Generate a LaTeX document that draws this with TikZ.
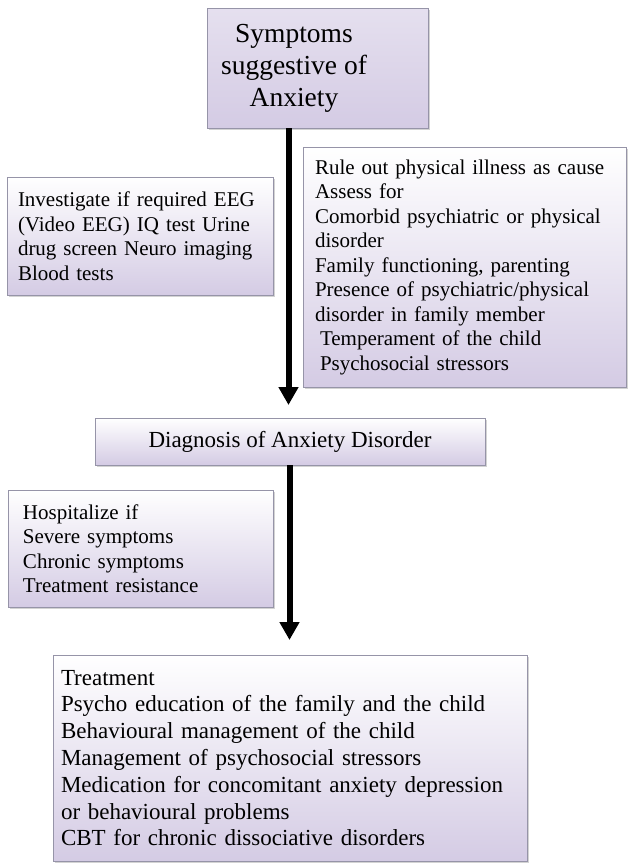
\documentclass[tikz,border=0pt]{standalone}
\usepackage{fontspec}
\setmainfont{Liberation Serif}
\usetikzlibrary{arrows.meta,positioning,shadows}
\definecolor{lav}{RGB}{212,203,228}
\definecolor{boxline}{RGB}{150,148,168}

\begin{document}
\begin{tikzpicture}[x=1pt,y=-1pt,
  box/.style={draw=boxline,line width=0.8pt,top color=white,bottom color=lav,
    drop shadow={shadow xshift=1.5pt,shadow yshift=-2pt,opacity=0.35},
    inner sep=0pt,align=left,font=\fontsize{21}{24.5}\selectfont},
  flow/.style={-{Triangle[width=19pt,length=18pt]},line width=6pt}]
  \useasboundingbox (0,0) rectangle (628,863);
  \node[box,minimum width=221pt,minimum height=120pt,top color=lav!60,bottom color=lav] (sympt) at (317.5,68) {};
  \node[font=\fontsize{27.5}{32}\selectfont,align=center] (symptxt) at (294,68) {Symptoms\\suggestive of\\Anxiety};
  \node[box,minimum width=266pt,minimum height=118pt,text width=244pt] (invest) at (140,236)
    {Investigate if required EEG\\(Video EEG) IQ test Urine\\drug screen Neuro imaging\\Blood tests};
  \node[box,minimum width=323pt,minimum height=240pt,text width=299pt] (ruleout) at (464.5,267)
    {Rule out physical illness as cause\\Assess for\\Comorbid psychiatric or physical\\disorder\\Family functioning, parenting\\Presence of psychiatric/physical\\disorder in family member\\\hspace*{5pt}Temperament of the child\\\hspace*{5pt}Psychosocial stressors};
  \node[box,minimum width=390pt,minimum height=47pt,align=center,font=\fontsize{23}{26}\selectfont] (diag) at (290,441.5) {Diagnosis of Anxiety Disorder};
  \node[box,minimum width=265pt,minimum height=117pt,text width=235pt] (hosp) at (140.5,548.5)
    {Hospitalize if\\Severe symptoms\\Chronic symptoms\\Treatment resistance};
  \node[box,minimum width=474pt,minimum height=206pt,text width=458pt,font=\fontsize{23}{26.8}\selectfont] (treat) at (290,758)
    {Treatment\\Psycho education of the family and the child\\Behavioural management of the child\\Management of psychosocial stressors\\Medication for concomitant anxiety depression\\or behavioural problems\\CBT for chronic dissociative disorders};
  \coordinate (tip1) at (288.5,405);
  \coordinate (tip2) at (289.5,640);
  \path[flow] (sympt.south -| tip1) edge (tip1)
    (diag.south -| tip2) edge (tip2);
\end{tikzpicture}
\end{document}
